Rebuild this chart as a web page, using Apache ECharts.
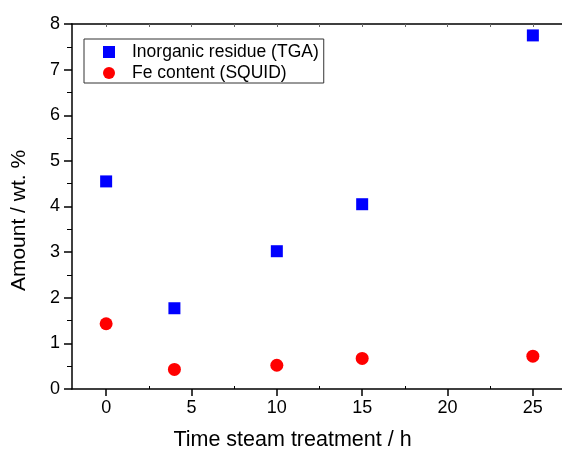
<!DOCTYPE html>
<html>
<head>
<meta charset="utf-8">
<script src="https://cdn.jsdelivr.net/npm/echarts@6/dist/echarts.min.js"></script>
<style>html,body{margin:0;padding:0;background:#fff}#c{width:562px;height:451px}</style>
</head>
<body>
<div id="c"></div>
<script>
var timeTGA = [0, 4, 10, 15, 25];
var residueTGA = [4.55, 1.77, 3.02, 4.05, 7.75];
var timeFe = [0, 4, 10, 15, 25];
var feSQUID = [1.43, 0.43, 0.52, 0.67, 0.72];
var xMajorTicks = [0, 5, 10, 15, 20, 25];
var xMinorTicks = [2.5, 7.5, 12.5, 17.5, 22.5];
var xTopTicks = [0, 2.5, 5, 7.5, 10, 12.5, 15, 17.5, 20, 22.5, 25];
var seriesNames = ['Inorganic residue (TGA)', 'Fe content (SQUID)'];

function pairs(xs, ys) { return xs.map(function (x, i) { return [x, ys[i]]; }); }

var font = 'Liberation Sans, Arial, sans-serif';
var chart = echarts.init(document.getElementById('c'));
chart.setOption({
  animation: false,
  backgroundColor: '#fff',
  grid: { left: 72, top: 24, right: -5, bottom: 62, containLabel: false, outerBoundsMode: 'none' },
  legend: {
    left: 84, top: 39, orient: 'vertical',
    borderColor: '#333', borderWidth: 1,
    padding: [4, 5, 1, 19], itemGap: 3,
    itemWidth: 12, itemHeight: 12,
    textStyle: { fontFamily: font, fontSize: 17.5, color: '#000', padding: [0, 0, 0, 12] },
    data: [
      { name: seriesNames[0], icon: 'rect' },
      { name: seriesNames[1], icon: 'circle' }
    ]
  },
  xAxis: [
    {
      type: 'value', min: -2, max: 27, position: 'bottom',
      name: 'Time steam treatment / h', nameLocation: 'middle', nameGap: 40,
      nameTextStyle: { fontFamily: font, fontSize: 21.5, color: '#000', padding: [0, 54, 0, 0] },
      axisLine: { show: true, onZero: false, lineStyle: { color: '#000', width: 1.5 } },
      axisTick: { show: true, inside: false, length: 7, customValues: xMajorTicks, lineStyle: { color: '#000', width: 1.5 } },
      axisLabel: { customValues: xMajorTicks, fontFamily: font, fontSize: 18, color: '#000', margin: 10 },
      splitLine: { show: false }
    },
    {
      type: 'value', min: -2, max: 27, position: 'bottom',
      axisLine: { show: false },
      axisTick: { show: true, inside: true, length: 3, customValues: xMinorTicks, lineStyle: { color: '#000', width: 1 } },
      axisLabel: { show: false },
      splitLine: { show: false }
    },
    {
      type: 'value', min: -2, max: 27, position: 'top',
      axisLine: { show: true, onZero: false, lineStyle: { color: '#000', width: 1.5 } },
      axisTick: { show: true, inside: true, length: 3, customValues: xTopTicks, lineStyle: { color: '#666', width: 1 } },
      axisLabel: { show: false },
      splitLine: { show: false }
    }
  ],
  yAxis: [
    {
      type: 'value', min: 0, max: 8, interval: 1,
      name: 'Amount / wt. %', nameLocation: 'middle', nameGap: 42,
      nameTextStyle: { fontFamily: font, fontSize: 21, color: '#000', padding: [0, 28, 0, 0] },
      axisLine: { show: true, onZero: false, lineStyle: { color: '#000', width: 1.5 } },
      axisTick: { show: true, inside: false, length: 8, lineStyle: { color: '#000', width: 1.5 } },
      minorTick: { show: true, splitNumber: 2, length: 5, lineStyle: { color: '#000', width: 1 } },
      axisLabel: { fontFamily: font, fontSize: 18, color: '#000', margin: 12 },
      splitLine: { show: false }
    }
  ],
  series: [
    {
      name: seriesNames[0], type: 'scatter', symbol: 'rect', symbolSize: 12,
      itemStyle: { color: '#0000ff', opacity: 1 },
      data: pairs(timeTGA, residueTGA)
    },
    {
      name: seriesNames[1], type: 'scatter', symbol: 'circle', symbolSize: 13,
      itemStyle: { color: '#ff0000', opacity: 1 },
      data: pairs(timeFe, feSQUID)
    }
  ]
});
</script>
</body>
</html>
